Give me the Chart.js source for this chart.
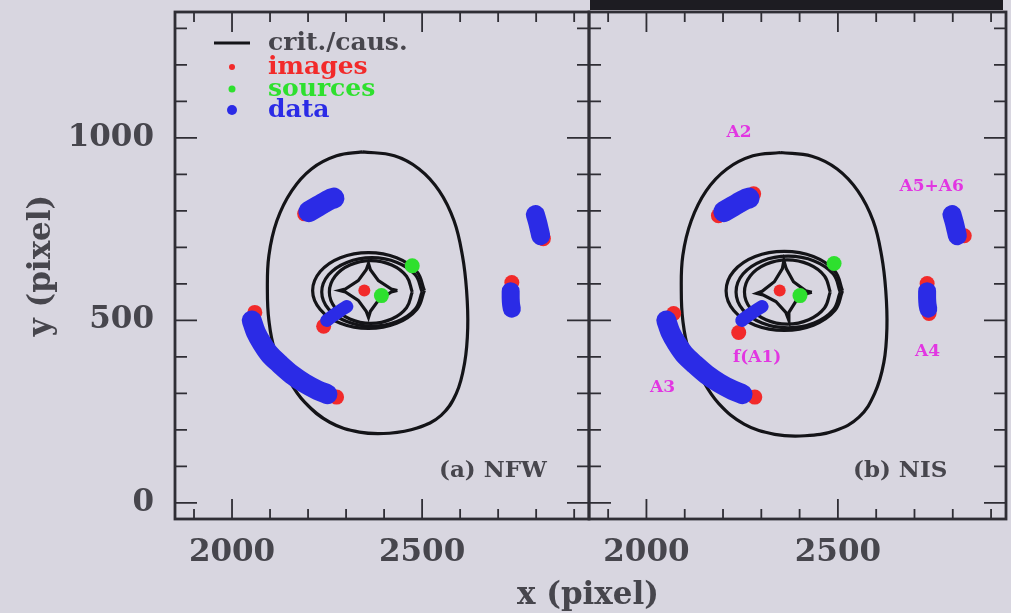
<!DOCTYPE html>
<html><head><meta charset="utf-8">
<script src="https://cdn.jsdelivr.net/npm/chart.js@4.4.0/dist/chart.umd.min.js"></script>
<style>
html,body{margin:0;padding:0;background:#d8d6e0;width:1011px;height:613px;overflow:hidden;position:relative}
#w1{position:absolute;left:0;top:0;width:591px;height:613px}
#w2{position:absolute;left:587px;top:0;width:424px;height:613px}
#topbar{position:absolute;left:590px;top:0;width:413px;height:10px;background:#1d1c22}
#xt{position:absolute;left:388px;top:575px;width:400px;text-align:center;font:bold 31px "DejaVu Serif",serif;color:#47464d}
</style></head>
<body>
<div id="topbar"></div>
<div id="w1"><canvas id="c1" width="591" height="613"></canvas></div>
<div id="w2"><canvas id="c2" width="424" height="613"></canvas></div>
<div id="xt">x (pixel)</div>
<script>
// ---- axes ----
const X_MIN = 1850, X_MAX = 2939, Y_MIN = -44, Y_MAX = 1345;
const xTickLabels = [2000, 2500];
const yTickLabels = [0, 500, 1000];
const xMinorTicks = [1900,2000,2100,2200,2300,2400,2500,2600,2700,2800,2900];
const yMinorTicks = [0,100,200,300,400,500,600,700,800,900,1000,1100,1200,1300];

// ---- observed data (blue), same in both panels ----
const dataA2  = [[2202,798],[2220,809],[2238,820],[2257,831],[2268,835]];
const dataA56 = [[2798,790],[2804,768],[2809,746],[2812,732]];
const dataA4  = [[2733,580],[2733,560],[2734,544],[2736,532]];
const dataA1  = [[2249,500],[2267,514],[2285,527],[2302,538]];
const dataA3  = [[2052,500],[2063,467],[2079,437],[2099,407],[2126,380],[2157,352],[2191,328],[2225,309],[2251,298]];

// ---- NFW model ----
const nfwOuter = [[2343,962],[2427,951],[2492,915],[2545,855],[2584,773],[2606,678],[2617,582],[2620,480],[2612,385],[2590,300],[2550,240],[2487,205],[2414,191],[2335,194],[2257,221],[2191,276],[2147,342],[2112,420],[2097,500],[2093,582],[2097,678],[2118,773],[2157,855],[2209,915],[2275,951],[2343,962]];
const nfwRing1 = [[2506,582],[2486,634],[2433,672],[2359,686],[2285,672],[2232,634],[2212,582],[2232,530],[2285,492],[2359,478],[2433,492],[2486,530],[2506,582]];
const nfwRing2 = [[2500,578],[2482,625],[2434,659],[2368,672],[2302,659],[2254,625],[2236,578],[2254,531],[2302,497],[2368,484],[2434,497],[2482,531],[2500,578]];
const nfwRing3 = [[2474,578],[2459,621],[2420,652],[2365,664],[2310,652],[2271,621],[2256,578],[2271,535],[2310,504],[2365,492],[2420,504],[2459,535],[2474,578]];
const nfwCaustic = [[2435,582],[2419,586],[2385,609],[2364,639],[2359,656],[2353,639],[2332,609],[2298,586],[2283,582],[2298,578],[2332,555],[2353,525],[2359,508],[2364,525],[2385,555],[2419,578],[2435,582]];
const nfwImages  = [[2191,792],[2267,839],[2819,724],[2736,604],[2241,484],[2060,522],[2275,290]];
const nfwCenter  = [[2348,582]];
const nfwSources = [[2474,650],[2393,568]];

// ---- NIS model ----
const nisOuter = [[2350,960],[2432,950],[2498,915],[2552,855],[2592,773],[2614,678],[2625,582],[2628,480],[2620,385],[2596,300],[2555,235],[2492,198],[2414,184],[2335,188],[2255,216],[2189,272],[2145,340],[2110,420],[2095,500],[2091,582],[2095,678],[2117,773],[2156,855],[2210,915],[2278,951],[2350,960]];
const nisRing1 = [[2512,581],[2492,635],[2436,675],[2360,689],[2284,675],[2228,635],[2208,581],[2228,527],[2284,487],[2360,473],[2436,487],[2492,527],[2512,581]];
const nisRing2 = [[2506,578],[2488,627],[2438,663],[2370,676],[2302,663],[2252,627],[2234,578],[2252,529],[2302,493],[2370,480],[2438,493],[2488,529],[2506,578]];
const nisRing3 = [[2480,578],[2465,622],[2424,654],[2368,666],[2312,654],[2271,622],[2256,578],[2271,534],[2312,502],[2368,490],[2424,502],[2465,534],[2480,578]];
const nisCaustic = [[2432,577],[2416,581],[2384,606],[2365,642],[2359,664],[2355,642],[2334,606],[2302,580],[2288,574],[2304,570],[2338,552],[2364,522],[2372,500],[2372,522],[2390,552],[2418,573],[2432,577]];
const nisImages  = [[2188,787],[2280,847],[2830,732],[2733,601],[2738,519],[2241,467],[2071,519],[2283,290]];
const nisCenter  = [[2348,582]];
const nisSources = [[2490,656],[2401,568]];

// ---- annotations ----
const nisLabelText = ['A2','A5+A6','f(A1)','A4','A3'];
const nisLabelX    = [2242, 2745, 2289, 2734, 2042];
const nisLabelY    = [1014, 866, 397, 414, 315];
const legendText   = ['crit./caus.','images','sources','data'];

const BLUE='#2b2be6', RED='#f22a2a', GREEN='#2ee02e', BLACK='#141418', MAG='#e236e2', AXIS='#2f2e35', TXT='#47464d';

const pts = a => a.map(p => ({x:p[0], y:p[1]}));
function curve(a){ return {data:pts(a), showLine:true, borderColor:BLACK, borderWidth:3.2, pointRadius:0, tension:0.4, fill:false}; }
function marks(a, c, r){ return {data:pts(a), showLine:false, backgroundColor:c, borderColor:c, borderWidth:0, pointRadius:r}; }
function blob(a, w){ return {data:pts(a), showLine:true, borderColor:BLUE, backgroundColor:BLUE, borderWidth:w, borderCapStyle:'round', borderJoinStyle:'round', pointRadius:0, pointBorderWidth:0, tension:0.3, fill:false}; }

function datasets(m){
  const cau = curve(m.caustic); cau.tension = 0;
  return [
    blob(dataA2, 21), blob(dataA56, 19), blob(dataA4, 18), blob(dataA1, 13), blob(dataA3, 20),
    marks(m.sources, GREEN, 7.5),
    marks(m.images, RED, 7.5), marks(m.center, RED, 6),
    curve(m.outer), curve(m.r1), curve(m.r2), curve(m.r3), cau
  ];
}

const framePlugin = {
  id:'frame',
  afterDatasetsDraw(chart){
    const {ctx, chartArea:a, scales:{x, y}} = chart;
    ctx.save();
    ctx.strokeStyle = AXIS; ctx.lineWidth = 1.8;
    ctx.beginPath();
    xMinorTicks.forEach(v => {
      const p = x.getPixelForValue(v), L = (v % 500 === 0) ? 20 : 10;
      ctx.moveTo(p, a.bottom); ctx.lineTo(p, a.bottom - L);
      ctx.moveTo(p, a.top); ctx.lineTo(p, a.top + L);
    });
    yMinorTicks.forEach(v => {
      const p = y.getPixelForValue(v), L = (v % 500 === 0) ? 22 : 12;
      ctx.moveTo(a.left, p); ctx.lineTo(a.left + L, p);
      ctx.moveTo(a.right, p); ctx.lineTo(a.right - L, p);
    });
    ctx.stroke();
    ctx.lineWidth = 2.8;
    ctx.strokeRect(a.left, a.top, a.right - a.left, a.bottom - a.top);
    const o = chart.options.plugins.frame;
    ctx.fillStyle = TXT; ctx.font = 'bold 23px "DejaVu Serif", serif';
    ctx.textBaseline = 'middle'; ctx.textAlign = 'left';
    ctx.fillText(o.panel, a.left + 264, a.bottom - 48);
    if (o.legend){
      const lx = a.left, ty = a.top;
      ctx.strokeStyle = BLACK; ctx.lineWidth = 3;
      ctx.beginPath(); ctx.moveTo(lx + 39, ty + 31); ctx.lineTo(lx + 75, ty + 31); ctx.stroke();
      const dots = [[RED,3],[GREEN,3.5],[BLUE,5]];
      const rows = [55, 77, 98];
      dots.forEach((d, i) => { ctx.fillStyle = d[0]; ctx.beginPath(); ctx.arc(lx + 57, ty + rows[i], d[1], 0, Math.PI*2); ctx.fill(); });
      ctx.font = 'bold 25px "DejaVu Serif", serif';
      const cols = [TXT, RED, GREEN, BLUE];
      const ys = [31, 55, 77, 98];
      legendText.forEach((t, i) => { ctx.fillStyle = cols[i]; ctx.fillText(t, lx + 93, ty + ys[i]); });
    }
    if (o.labels){
      ctx.fillStyle = MAG; ctx.font = 'bold 17px "DejaVu Serif", serif'; ctx.textAlign = 'center';
      nisLabelText.forEach((t, i) => ctx.fillText(t, x.getPixelForValue(nisLabelX[i]), y.getPixelForValue(nisLabelY[i])));
    }
    ctx.restore();
  }
};

function zeroPad(s){ s.paddingTop = 0; s.paddingBottom = 0; s.paddingLeft = 0; s.paddingRight = 0; }

function makeChart(id, m, left){
  return new Chart(document.getElementById(id), {
    type:'scatter',
    data:{datasets:datasets(m)},
    plugins:[framePlugin],
    options:{
      responsive:false, animation:false, events:[],
      layout:{autoPadding:false, padding: left ? {top:12, right:2, left:0, bottom:0} : {top:12, right:5, left:2, bottom:0}},
      plugins:{legend:{display:false}, tooltip:{enabled:false}, frame:{panel: m.panel, legend: left, labels: !left}},
      scales:{
        x:{type:'linear', min:X_MIN, max:X_MAX,
           afterBuildTicks: s => { s.ticks = xMinorTicks.map(v => ({value:v})); },
           afterFit: s => { s.height = 94; zeroPad(s); },
           grid:{display:false, drawTicks:false}, border:{display:false},
           ticks:{autoSkip:false, maxRotation:0, padding:15, color:TXT, font:{family:'"DejaVu Serif", serif', size:31, weight:'bold'},
                  callback: v => xTickLabels.includes(v) ? String(v) : ''}},
        y:{type:'linear', min:Y_MIN, max:Y_MAX, display: left,
           afterBuildTicks: s => { s.ticks = yMinorTicks.map(v => ({value:v})); },
           afterFit: s => { s.width = left ? 175 : 0; zeroPad(s); },
           grid:{display:false, drawTicks:false}, border:{display:false},
           title:{display:true, text:'y (pixel)', color:TXT, font:{family:'"DejaVu Serif", serif', size:31, weight:'bold'}, padding:{top:23, bottom:0}},
           ticks:{autoSkip:false, padding:21, color:TXT, font:{family:'"DejaVu Serif", serif', size:31, weight:'bold'},
                  callback: v => yTickLabels.includes(v) ? String(v) : ''}}
      }
    }
  });
}

makeChart('c1', {outer:nfwOuter, r1:nfwRing1, r2:nfwRing2, r3:nfwRing3, caustic:nfwCaustic, images:nfwImages, center:nfwCenter, sources:nfwSources, panel:'(a) NFW'}, true);
makeChart('c2', {outer:nisOuter, r1:nisRing1, r2:nisRing2, r3:nisRing3, caustic:nisCaustic, images:nisImages, center:nisCenter, sources:nisSources, panel:'(b) NIS'}, false);
</script>
</body></html>
